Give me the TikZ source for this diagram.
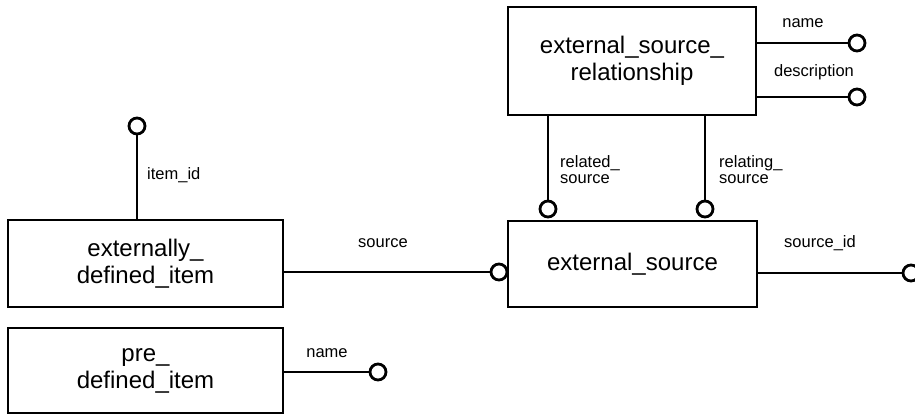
\documentclass[tikz,border=0pt]{standalone}
\usepackage{fontspec}
\setmainfont{Liberation Sans}
\usetikzlibrary{positioning,calc}
\tikzset{
	entity/.style={draw,line width=2.8pt,align=center,inner sep=0pt,font=\fontsize{24}{27}\selectfont},
	attr/.style={draw,circle,line width=2.8pt,inner sep=0pt,minimum size=16pt},
	role/.style={font=\fontsize{16.5}{16}\selectfont,align=left,inner sep=0pt},
	link/.style={line width=2.6pt}
}

\begin{document}
\begin{tikzpicture}[x=1pt,y=-1pt]
\useasboundingbox (0,0) rectangle (915,415);

%Entites
\node[entity,minimum width=248pt,minimum height=108pt] (esr) at (632,61) {external\_source\_\\relationship};
\node[entity,minimum width=249pt,minimum height=86pt] (es) at (632.5,264) {external\_source};
\node[entity,minimum width=275pt,minimum height=87pt] (edi) at (145.5,263.5) {externally\_\\defined\_item};
\node[entity,minimum width=275pt,minimum height=85pt] (pdi) at (145.5,370.5) {pre\_\\defined\_item};

%Attributs (cercles)
\node[attr] (esrname) at (857,43) {};
\node[attr] (esrdesc) at (857,97) {};
\node[attr] (related) at (548,209) {};
\node[attr] (relating) at (705,209) {};
\node[attr] (srcid) at (911,273) {};
\node[attr] (src) at (499,272) {};
\node[attr] (itemid) at (137,126) {};
\node[attr] (pdiname) at (378,372) {};

%Liens
\draw[link] (esrname.west) -- (esrname.west -| esr.east);
\draw[link] (esrdesc.west) -- (esrdesc.west -| esr.east);
\draw[link] (related.north) -- (related.north |- esr.south);
\draw[link] (relating.north) -- (relating.north |- esr.south);
\draw[link] (srcid.west) -- (srcid.west -| es.east);
\draw[link] (src.west) -- (src.west -| edi.east);
\draw[link] (itemid.south) -- (itemid.south |- edi.north);
\draw[link] (pdiname.west) -- (pdiname.west -| pdi.east);

%Noms des roles
\node[role] (lname) at (803,23) {name};
\node[role] (ldesc) at (814,72) {description};
\node[role,anchor=west] (lrelated) at (560,170) {related\_\\source};
\node[role,anchor=west] (lrelating) at (719,170) {relating\_\\source};
\node[role] (lsrcid) at (820,243) {source\_id};
\node[role] (lsrc) at (383,243) {source};
\node[role,anchor=west] (litem) at (147,175) {item\_id};
\node[role] (lpname) at (327,353) {name};

\end{tikzpicture}
\end{document}
